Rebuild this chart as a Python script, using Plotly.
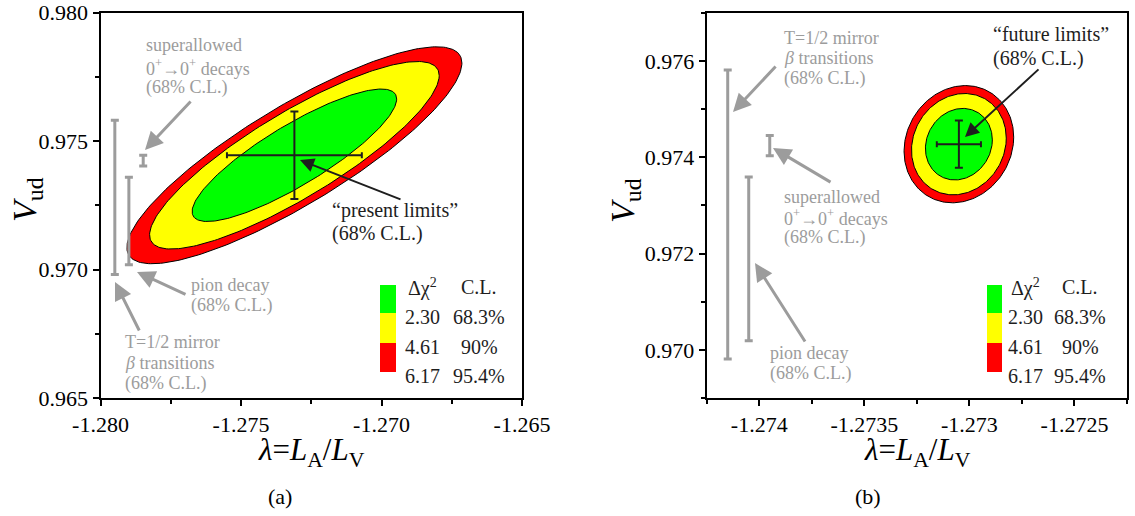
import numpy as np
import plotly.graph_objects as go

W, H = 1135, 516

# ---- data -------------------------------------------------------------
# confidence levels of the 2D contours
DCHI2 = [6.17, 4.61, 2.30]
DCHI2_LABELS = ["6.17", "4.61", "2.30"]
CL_LABELS = ["95.4%", "90%", "68.3%"]
CONTOUR_COLORS = ["#ff0000", "#ffff00", "#00ff00"]

# (a) present limits: centre, 1-sigma errors, correlation
PRESENT_LAMBDA = -1.2731
PRESENT_VUD = 0.97445
PRESENT_SIG_LAMBDA = 0.0024
PRESENT_SIG_VUD = 0.0017
PRESENT_RHO = 0.85

# (b) future limits
FUTURE_LAMBDA = -1.27305
FUTURE_VUD = 0.97427
FUTURE_SIG_LAMBDA = 0.000105
FUTURE_SIG_VUD = 0.00049
FUTURE_RHO = 0.12

# independent V_ud determinations (68% C.L.)
VUD_SOURCES = ["mirror", "pion", "superallowed"]
VUD_VALUES = [0.97281, 0.97189, 0.97424]
VUD_ERRORS = [0.0030, 0.0017, 0.00021]
# horizontal placement of those bars in each panel
SOURCE_X_A = [-1.27949, -1.27899, -1.27848]
SOURCE_X_B = [-1.27415, -1.27405, -1.27395]

# axis ranges and ticks
XRANGE_A = [-1.280, -1.265]
YRANGE_A = [0.965, 0.980]
XTICKS_A = [-1.280, -1.275, -1.270, -1.265]
XTICKTEXT_A = ["-1.280", "-1.275", "-1.270", "-1.265"]
YTICKS_A = [0.965, 0.970, 0.975, 0.980]
YTICKTEXT_A = ["0.965", "0.970", "0.975", "0.980"]

XRANGE_B = [-1.27425, -1.27225]
YRANGE_B = [0.969, 0.977]
XTICKS_B = [-1.274, -1.2735, -1.273, -1.2725]
XTICKTEXT_B = ["-1.274", "-1.2735", "-1.273", "-1.2725"]
YTICKS_B = [0.970, 0.972, 0.974, 0.976]
YTICKTEXT_B = ["0.970", "0.972", "0.974", "0.976"]

GRAY = "#9c9c9c"
DARK = "#1e1e1e"
SERIF = "Liberation Serif, Times New Roman, serif"


def ellipse(mx, my, sx, sy, rho, dchi2, n=240):
    t = np.linspace(0, 2 * np.pi, n)
    r = np.sqrt(dchi2)
    x = mx + sx * r * np.cos(t)
    y = my + sy * r * (rho * np.cos(t) + np.sqrt(1 - rho ** 2) * np.sin(t))
    return x, y


fig = go.Figure()


def add_panel(xa, ya, mx, my, sx, sy, rho, src_x):
    for c, col in zip(DCHI2, CONTOUR_COLORS):
        ex, ey = ellipse(mx, my, sx, sy, rho, c)
        fig.add_trace(go.Scatter(
            x=ex, y=ey, xaxis=xa, yaxis=ya, mode="lines", fill="toself",
            fillcolor=col, line=dict(color="black", width=1),
            hoverinfo="skip"))
    # 1D 68% C.L. cross
    fig.add_trace(go.Scatter(
        x=[mx], y=[my], xaxis=xa, yaxis=ya, mode="markers",
        marker=dict(size=1, color="rgba(0,0,0,0)"),
        error_x=dict(type="data", array=[sx], color=DARK, thickness=2, width=3),
        error_y=dict(type="data", array=[sy], color=DARK, thickness=2, width=4)))
    # independent determinations
    fig.add_trace(go.Scatter(
        x=src_x, y=VUD_VALUES, xaxis=xa, yaxis=ya, mode="markers",
        marker=dict(size=1, color="rgba(0,0,0,0)"),
        error_y=dict(type="data", array=VUD_ERRORS, color=GRAY,
                     thickness=3, width=4)))


add_panel("x", "y", PRESENT_LAMBDA, PRESENT_VUD, PRESENT_SIG_LAMBDA,
          PRESENT_SIG_VUD, PRESENT_RHO, SOURCE_X_A)
add_panel("x2", "y2", FUTURE_LAMBDA, FUTURE_VUD, FUTURE_SIG_LAMBDA,
          FUTURE_SIG_VUD, FUTURE_RHO, SOURCE_X_B)


def px(x):
    return x / W


def py(y):
    return 1 - y / H


axis_common = dict(
    showline=True, linecolor="black", linewidth=2, mirror=True,
    showgrid=False, zeroline=False, ticks="outside", ticklen=6,
    tickwidth=1.5, tickcolor="black", automargin=False,
    tickfont=dict(family=SERIF, size=22, color="black"),
    tickmode="array",
)
minor_common = dict(ticks="outside", ticklen=4, tickwidth=1.5,
                    tickcolor="black", showgrid=False)

fig.update_layout(
    width=W, height=H,
    margin=dict(l=0, r=0, t=0, b=0, pad=0, autoexpand=False),
    paper_bgcolor="white", plot_bgcolor="white", showlegend=False,
    xaxis=dict(domain=[px(100.5), px(522)], range=XRANGE_A,
               tickvals=XTICKS_A, ticktext=XTICKTEXT_A,
               minor=dict(dtick=0.0025, tick0=-1.280, **minor_common),
               anchor="y", **axis_common),
    yaxis=dict(domain=[py(398), py(12.7)], range=YRANGE_A,
               tickvals=YTICKS_A, ticktext=YTICKTEXT_A,
               minor=dict(dtick=0.0025, tick0=0.965, **minor_common),
               anchor="x", **axis_common),
    xaxis2=dict(domain=[px(706.7), px(1127)], range=XRANGE_B,
                tickvals=XTICKS_B, ticktext=XTICKTEXT_B,
                minor=dict(dtick=0.00025, tick0=-1.274, **minor_common),
                anchor="y2", **axis_common),
    yaxis2=dict(domain=[py(398), py(12.7)], range=YRANGE_B,
                tickvals=YTICKS_B, ticktext=YTICKTEXT_B,
                minor=dict(dtick=0.001, tick0=0.969, **minor_common),
                anchor="x2", **axis_common),
)


def text(x, y, s, size=18, color=GRAY, anchor="left", angle=0):
    fig.add_annotation(x=px(x), y=py(y), xref="paper", yref="paper",
                       text=s, showarrow=False, xanchor=anchor,
                       yanchor="middle", textangle=angle, borderpad=0,
                       font=dict(family=SERIF, size=size, color=color))


def lines(x, ys, texts, size=18, color=GRAY):
    for y, s in zip(ys, texts):
        text(x, y, s, size=size, color=color)


def arrow(tip, tail, color=GRAY, width=3, size=1.2):
    fig.add_annotation(x=px(tip[0]), y=py(tip[1]), xref="paper", yref="paper",
                       ax=tail[0] - tip[0], ay=tail[1] - tip[1],
                       axref="pixel", ayref="pixel", text="", showarrow=True,
                       arrowhead=2, arrowsize=size, arrowwidth=width,
                       arrowcolor=color, standoff=0)


SUPER = ["superallowed", "0<sup>+</sup>→0<sup>+</sup> decays", "(68% C.L.)"]
PION = ["pion decay", "(68% C.L.)"]
MIRROR = ["T=1/2 mirror", "<i>β</i> transitions", "(68% C.L.)"]

# ---- panel (a) labels ----
lines(145, [45, 67, 88], SUPER)
arrow((145, 150), (192, 100))
lines(190, [285, 305], PION)
arrow((137, 272), (187, 295))
lines(124, [342, 363, 383], MIRROR)
arrow((115, 282), (140, 332))
lines(331, [210, 233], ["“present limits”", "(68% C.L.)"], size=20, color=DARK)
arrow((300, 160), (402, 200), color=DARK, width=2, size=1.4)

# ---- panel (b) labels ----
lines(783, [38, 58, 78], MIRROR)
arrow((733, 112), (777, 65))
lines(783, [197, 217, 238], SUPER)
arrow((773, 148), (832, 183))
lines(769, [353, 373], PION)
arrow((755, 263), (806, 343))
lines(992, [34, 59], ["“future limits”", "(68% C.L.)"], size=20, color=DARK)
arrow((965, 137), (1040, 68), color=DARK, width=2, size=1.4)

# ---- contour key ----
for box_x0, box_x1, c1, c2 in [(380, 396, 422, 479), (987, 1002, 1025, 1080)]:
    bounds = [285, 313, 343, 372]
    for i, col in enumerate(CONTOUR_COLORS[::-1]):
        fig.add_shape(type="rect", xref="paper", yref="paper",
                      x0=px(box_x0), x1=px(box_x1),
                      y0=py(bounds[i + 1]), y1=py(bounds[i]),
                      fillcolor=col, line=dict(width=0))
    text(c1, 287, "Δχ<sup>2</sup>", size=20, color=DARK, anchor="center")
    text(c2, 287, "C.L.", size=20, color=DARK, anchor="center")
    for y, d, cl in zip([317, 347, 376], DCHI2_LABELS[::-1], CL_LABELS[::-1]):
        text(c1, y, d, size=20, color=DARK, anchor="center")
        text(c2, y, cl, size=20, color=DARK, anchor="center")

# ---- axis titles and panel captions ----
XTITLE = "<i>λ</i>=<i>L</i><sub>A</sub>/<i>L</i><sub>V</sub>"
YTITLE = "<i>V</i><sub>ud</sub>"
for cx in (311, 917):
    text(cx, 452, XTITLE, size=31, color="black", anchor="center")
for cx in (27, 625):
    text(cx, 200, YTITLE, size=34, color="black", anchor="center", angle=-90)
text(280, 496, "(a)", size=22, color="black", anchor="center")
text(868, 496, "(b)", size=22, color="black", anchor="center")

fig.write_html("out.html")
